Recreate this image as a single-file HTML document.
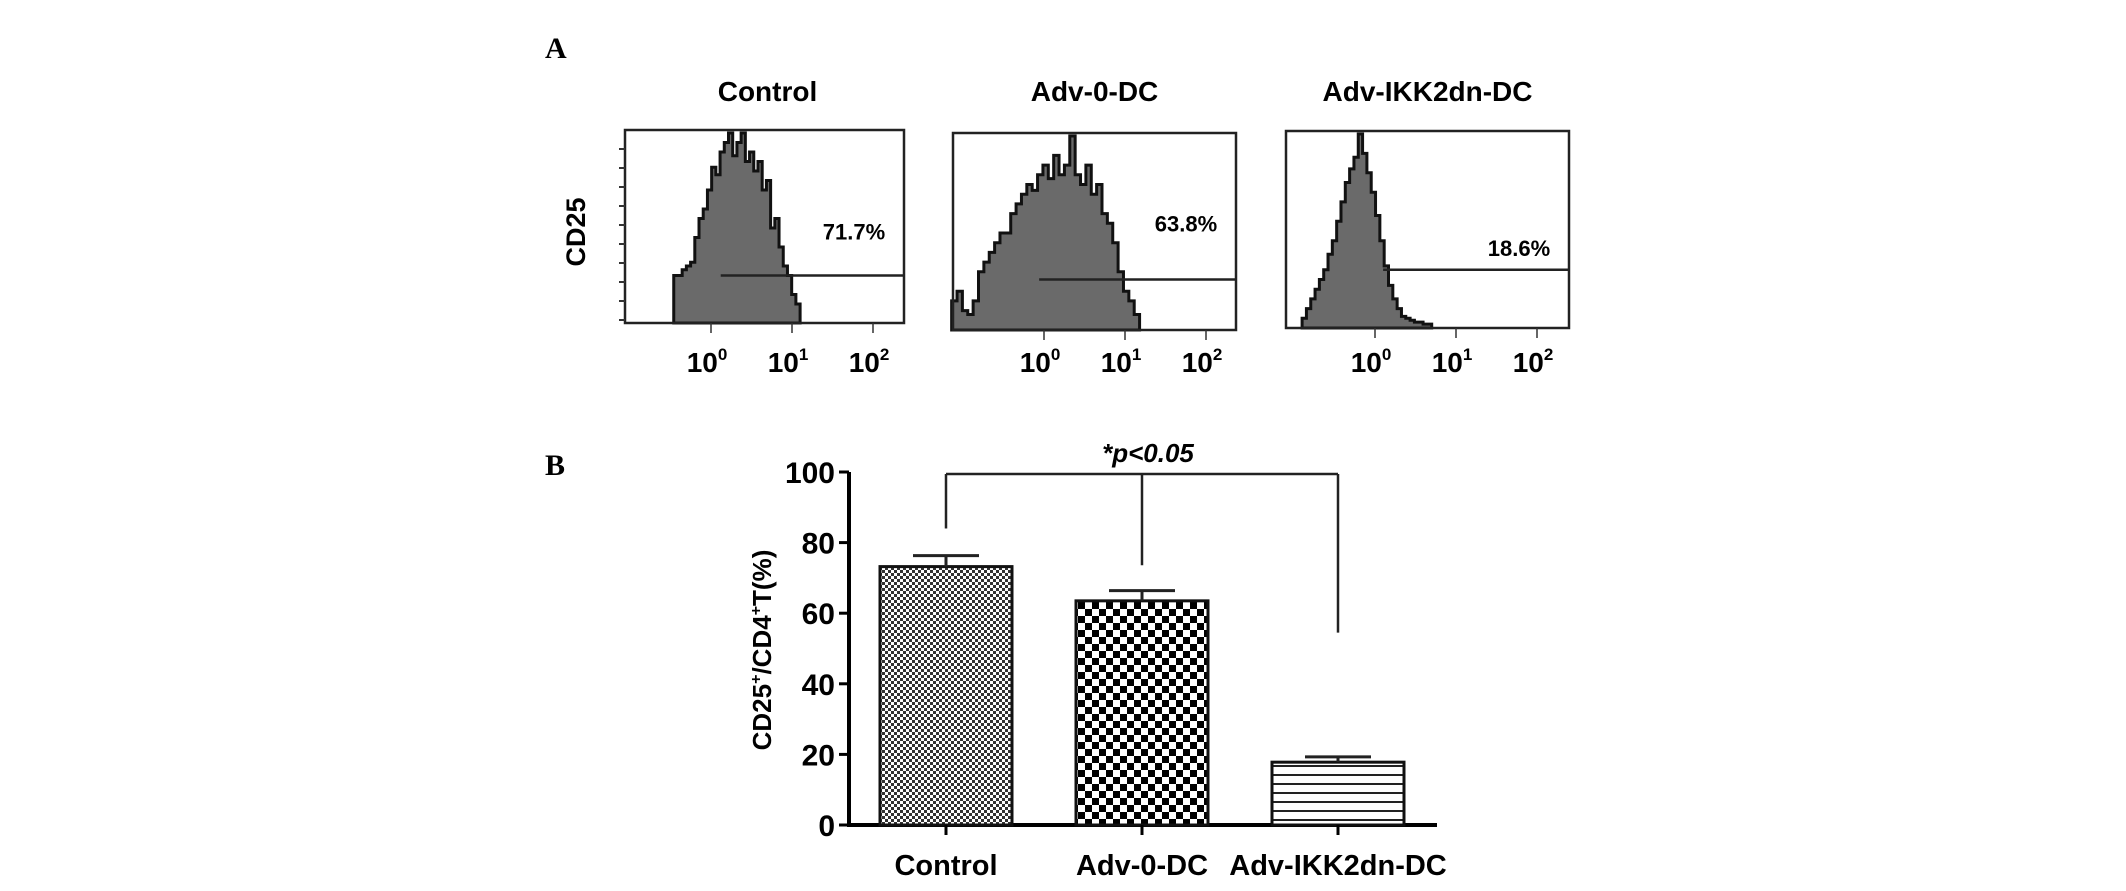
<!DOCTYPE html>
<html><head><meta charset="utf-8"><style>
html,body{margin:0;padding:0;background:#fff;}
svg{display:block;font-family:"Liberation Sans",Arial,sans-serif;}
</style></head><body>
<svg width="2126" height="891" viewBox="0 0 2126 891">
<defs>
<pattern id="pFine" width="6" height="6" patternUnits="userSpaceOnUse"><rect width="6" height="6" fill="#fff"/><rect width="3" height="3" fill="#333"/><rect x="3" y="3" width="3" height="3" fill="#333"/></pattern>
<pattern id="pCoarse" width="14" height="14" patternUnits="userSpaceOnUse"><rect width="14" height="14" fill="#fff"/><rect width="7" height="7" fill="#000"/><rect x="7" y="7" width="7" height="7" fill="#000"/></pattern>
<pattern id="pLines" width="10" height="9" patternUnits="userSpaceOnUse"><rect width="10" height="9" fill="#fff"/><rect y="0" width="10" height="2" fill="#222"/></pattern>
</defs>
<text x="545" y="58" font-family="Liberation Serif,serif" font-weight="bold" font-size="30">A</text>
<text x="545" y="475" font-family="Liberation Serif,serif" font-weight="bold" font-size="30">B</text>
<text transform="translate(585,232) rotate(-90)" text-anchor="middle" font-weight="bold" font-size="27">CD25</text>
<g id="hists"></g>
<g id="barchart"></g>
</svg>
<script>
// ---- Panel A histogram data ----
const histTitles = ["Control", "Adv-0-DC", "Adv-IKK2dn-DC"];
const histPercents = ["71.7%", "63.8%", "18.6%"];
const histCounts0 = [0.25,0.25,0.28,0.3,0.32,0.45,0.55,0.6,0.7,0.82,0.78,0.9,0.95,1.0,0.88,0.95,1.0,0.85,0.9,0.8,0.85,0.7,0.75,0.5,0.55,0.4,0.3,0.25,0.15,0.1];
const histCounts1 = [0.15,0.2,0.1,0.08,0.15,0.3,0.35,0.4,0.45,0.5,0.5,0.6,0.65,0.7,0.75,0.72,0.8,0.85,0.78,0.9,0.8,0.85,1.0,0.8,0.75,0.85,0.7,0.75,0.6,0.55,0.45,0.3,0.2,0.15,0.08];
const histCounts2 = [0.05,0.1,0.15,0.2,0.25,0.3,0.38,0.45,0.55,0.65,0.75,0.82,0.88,1.0,0.9,0.8,0.7,0.58,0.45,0.32,0.22,0.15,0.1,0.06,0.05,0.04,0.03,0.03,0.02,0.02];
const histStartLog = [-0.46, -1.14, -0.9];
const histEndLog = [1.1, 1.18, 0.7];
const gateStartLog = [0.12, -0.06, 0.1];
const gateLevel = [0.25, 0.26, 0.30];
const tickLabels = ["0","1","2"];
// ---- Panel B bar data ----
const categories = ["Control", "Adv-0-DC", "Adv-IKK2dn-DC"];
const means = [73.2, 63.5, 17.8];
const errs = [3.1, 2.9, 1.5];
const yTicks = [0,20,40,60,80,100];
const bracketDrops = [84, 73.6, 54.5];
const sigLabel = "*p<0.05";

const NS = "http://www.w3.org/2000/svg";
function mk(tag, attrs, parent, txt){const e=document.createElementNS(NS,tag);for(const k in attrs)e.setAttribute(k,attrs[k]);if(txt!==undefined)e.textContent=txt;parent.appendChild(e);return e;}

// Panel A
const boxes = [{x:625,y:130,w:279,h:193,d0:86,pct:-36},{x:953,y:133,w:283,h:197,d0:91,pct:-48},{x:1286,y:131,w:283,h:197,d0:89,pct:-14}];
const counts = [histCounts0, histCounts1, histCounts2];
const hg = document.getElementById('hists');
boxes.forEach((b,i)=>{
  const dec0 = b.x + b.d0, decW = 81;
  const xs = v => dec0 + v*decW;
  const ys = f => b.y + b.h - f*(b.h-3);
  const g = mk('g',{},hg);
  
  
  const t = mk('text',{x:b.x+b.w/2 + (i==0?3:0), y:101,'text-anchor':'middle','font-weight':'bold','font-size':28},g,histTitles[i]);
  
  
  const c = counts[i]; const n=c.length;
  const x0 = xs(histStartLog[i]), x1 = xs(histEndLog[i]), bw=(x1-x0)/n;
  let d = 'M'+x0+','+(b.y+b.h);
  c.forEach((v,j)=>{d+=' L'+(x0+j*bw)+','+ys(v)+' L'+(x0+(j+1)*bw)+','+ys(v);});
  d+=' L'+x1+','+(b.y+b.h)+' Z';
  const p = mk('path',{d:d,fill:'#6a6a6a',stroke:'#111','stroke-width':3},g);
  
  
  const r = mk('rect',{x:b.x,y:b.y,width:b.w,height:b.h,fill:'none',stroke:'#222','stroke-width':2.5},g);
  
  
  const gl = mk('line',{x1:xs(gateStartLog[i]),x2:b.x+b.w,y1:ys(gateLevel[i]),y2:ys(gateLevel[i]),stroke:'#222','stroke-width':2.5},g);
  
  
  const pt = mk('text',{x:b.x+b.w-50,y:ys(gateLevel[i])+b.pct,'text-anchor':'middle','font-weight':'bold','font-size':22},g,histPercents[i]);
  
  
  tickLabels.forEach((tl,k)=>{
    const tx = xs(k);
    mk('line',{x1:tx,x2:tx,y1:b.y+b.h,y2:b.y+b.h+10,stroke:'#333','stroke-width':1.5},g);
    const tt = mk('text',{x:tx-4,y:372,'text-anchor':'middle','font-weight':'bold','font-size':28},g,'10');
    
    
    mk('tspan',{dy:-12,'font-size':17},tt,tl);
  });
  if(i==0){for(let k=0;k<10;k++)mk('line',{x1:b.x-6,x2:b.x,y1:b.y+19+k*19,y2:b.y+19+k*19,stroke:'#333','stroke-width':2},g);}
});

// Panel B
const bg = document.getElementById('barchart');
const axX=849, y0=825, y100=472, xStart=946, xStep=196, barW=132;
const yScale = v => y0 - v*(y0-y100)/100;
const xCenter = i => xStart + i*xStep;
const fills = ['url(#pFine)','url(#pCoarse)','url(#pLines)'];
mk('line',{x1:axX,x2:axX,y1:y100,y2:y0+2,stroke:'#000','stroke-width':4},bg);
mk('line',{x1:axX-2,x2:1437,y1:y0,y2:y0,stroke:'#000','stroke-width':4},bg);
yTicks.forEach(v=>{
  mk('line',{x1:axX-10,x2:axX,y1:yScale(v),y2:yScale(v),stroke:'#000','stroke-width':3},bg);
  const t = mk('text',{x:axX-14,y:yScale(v)+11,'text-anchor':'end','font-weight':'bold','font-size':30},bg,String(v));
  
  
});
const yt = mk('text',{transform:'translate(771,650) rotate(-90)','text-anchor':'middle','font-weight':'bold','font-size':26},bg);


yt.innerHTML='CD25<tspan dy="-10" font-size="16">+</tspan><tspan dy="10">/CD4</tspan><tspan dy="-10" font-size="16">+</tspan><tspan dy="10">T(%)</tspan>';
categories.forEach((c,i)=>{
  const cx=xCenter(i);
  const r = mk('rect',{x:cx-barW/2,y:yScale(means[i]),width:barW,height:y0-yScale(means[i]),fill:fills[i],stroke:'#111','stroke-width':3},bg);
  
  
  const e = mk('path',{d:'M'+cx+','+yScale(means[i])+' V'+yScale(means[i]+errs[i])+' M'+(cx-33)+','+yScale(means[i]+errs[i])+' H'+(cx+33),stroke:'#222','stroke-width':3,fill:'none'},bg);
  
  
  mk('line',{x1:cx,x2:cx,y1:y0,y2:y0+10,stroke:'#000','stroke-width':3},bg);
  const t = mk('text',{x:cx,y:y0+50,'text-anchor':'middle','font-weight':'bold','font-size':29},bg,c);
  
  
  const d = mk('line',{x1:cx,x2:cx,y1:yScale(100)+2,y2:yScale(bracketDrops[i]),stroke:'#222','stroke-width':2.5},bg);
  
  
});
const br = mk('line',{x1:xCenter(0),x2:xCenter(2),y1:yScale(100)+2,y2:yScale(100)+2,stroke:'#222','stroke-width':2.5},bg);


const sl = mk('text',{x:1148,y:462,'text-anchor':'middle','font-weight':'bold','font-style':'italic','font-size':26},bg,sigLabel);


</script>
</body></html>
